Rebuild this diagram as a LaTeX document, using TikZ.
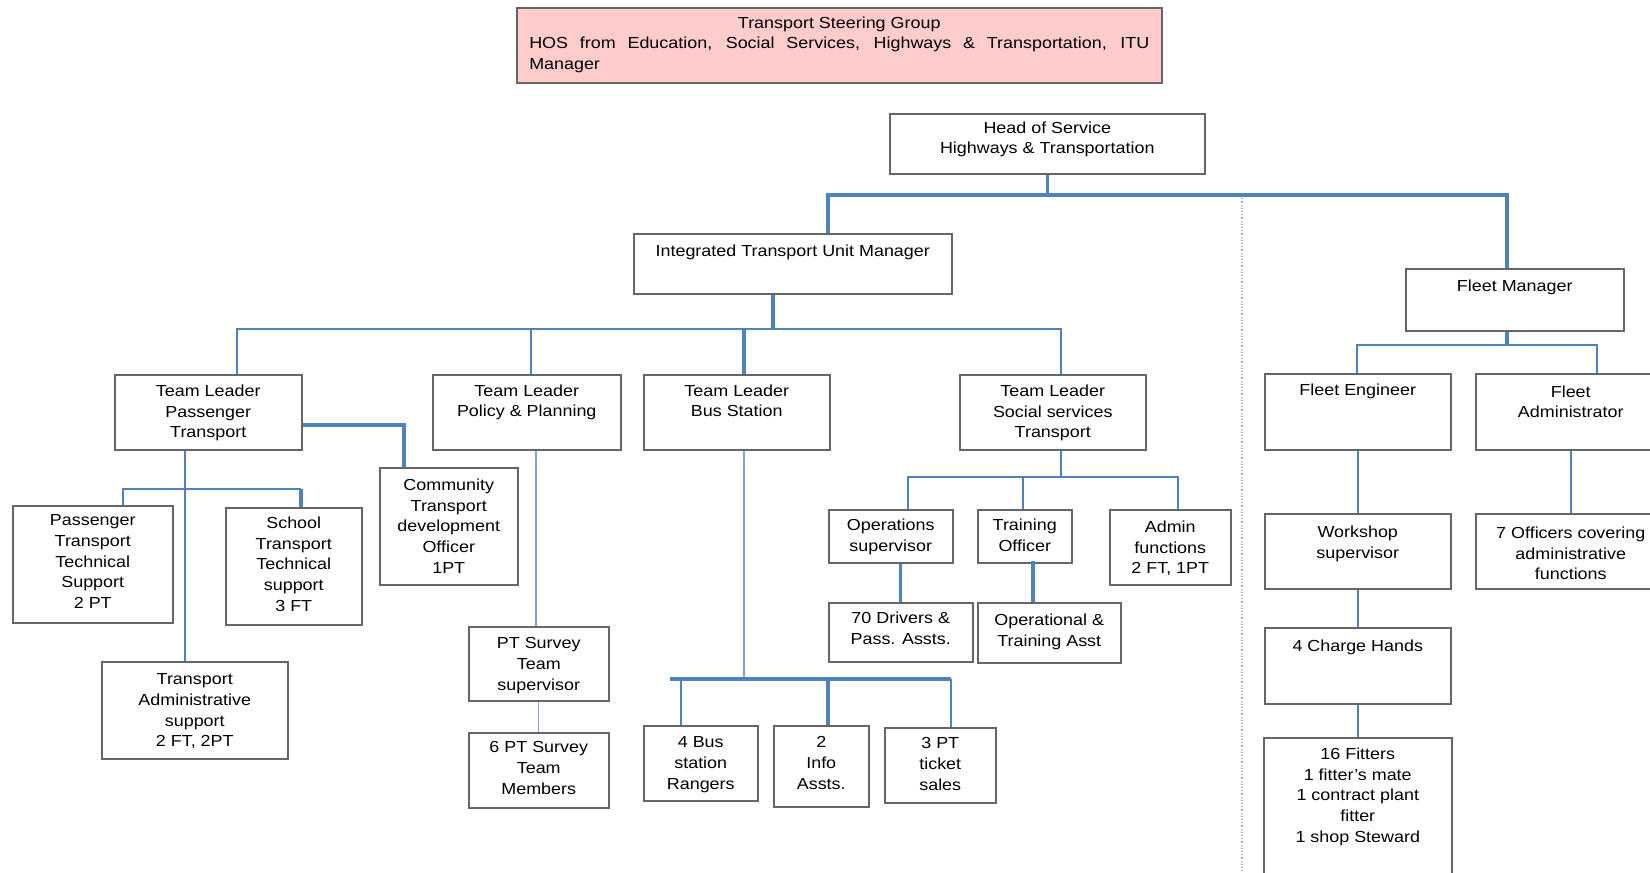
\documentclass[tikz,border=0pt]{standalone}
\usepackage{fontspec}
\setmainfont{Liberation Sans}[FakeStretch=1.12]
\usepackage{tikz}
\usetikzlibrary{calc}

\definecolor{linkblue}{RGB}{79,129,189}
\definecolor{steerpink}{RGB}{255,204,204}

\tikzset{
  post/.style={draw=black!60, line width=1.5pt, fill=white, inner sep=0pt},
  txt/.style={align=center, inner sep=0pt, text=black, font=\fontsize{16}{20.7}\selectfont},
  link/.style={draw=linkblue, line width=2pt},
  link heavy/.style={draw=linkblue, line width=3.4pt},
  link light/.style={draw=linkblue!70, line width=1.4pt},
  sepline/.style={draw=linkblue!55, line width=1.2pt, dotted},
}

% box with its text hung from the top edge
\newcommand{\Post}[7][22]{%
  \node[post, minimum width=#5pt, minimum height=#6pt, anchor=north west] (#2) at (#3,#4) {};
  \node[txt, anchor=north] (#2-t) at ($(#2.north)+(0,#1-11.5)$) {#7};
}

\begin{document}
\begin{tikzpicture}[x=1pt, y=-1pt]
\useasboundingbox (0,0) rectangle (1650,873);

	% steering group
	\node[post, fill=steerpink, minimum width=645pt, minimum height=75pt, anchor=north west] (steer) at (516,7) {};
	\node[txt, anchor=north] (steer-t) at ($(steer.north)+(0,21-11.5)$) {\makebox[620pt]{Transport Steering Group}\\
		\makebox[620pt][s]{HOS from Education, Social Services, Highways \& Transportation, ITU}\\
		\makebox[620pt][l]{Manager}};

	% top levels
	\Post[20]{hos}{889}{113}{315}{60}{Head of Service\\Highways \& Transportation}
	\Post[23]{itu}{633}{233}{318}{60}{Integrated Transport Unit Manager}
	\Post[23]{fleet}{1405}{268}{218}{62}{Fleet Manager}

	% team leaders
	\Post{tlpt}{114}{374}{187}{75}{Team Leader\\Passenger\\Transport}
	\Post{tlpp}{432}{374}{188}{75}{Team Leader\\Policy \& Planning}
	\Post{tlbs}{643}{374}{186}{75}{Team Leader\\Bus Station}
	\Post{tlss}{959}{374}{186}{75}{Team Leader\\Social services\\Transport}

	% passenger transport
	\Post[21]{ptts}{12}{505}{160}{117}{Passenger\\Transport\\Technical\\Support\\2 PT}
	\Post[21]{stts}{225}{507}{136}{117}{School\\Transport\\Technical\\support\\3 FT}
	\Post[23]{comm}{379}{467}{138}{117}{Community\\Transport\\development\\Officer\\1PT}
	\Post[24]{tas}{101}{661}{186}{97}{Transport\\Administrative\\support\\2 FT, 2PT}

	% policy & planning
	\Post[23]{pts}{468}{626}{140}{74}{PT Survey\\Team\\supervisor}
	\Post[21]{ptm}{468}{732}{140}{75}{6 PT Survey\\Team\\Members}

	% bus station
	\Post[23]{rang}{643}{725}{114}{75}{4 Bus\\station\\Rangers}
	\Post[23]{info}{773}{725}{95}{81}{2\\Info\\Assts.}
	\Post[22]{tick}{884}{727}{111}{75}{3 PT\\ticket\\sales}

	% social services
	\Post[21]{ops}{828}{509}{124}{53}{Operations\\supervisor}
	\Post[21]{trn}{977}{509}{94}{53}{Training\\Officer}
	\Post[23]{adm}{1109}{509}{121}{75}{Admin\\functions\\2 FT, 1PT}
	\Post[21]{drv}{828}{602}{144}{59}{70 Drivers \&\\Pass. Assts.}
	\Post[23]{ota}{977}{602}{143}{60}{Operational \&\\Training Asst}

	% fleet
	\Post{feng}{1264}{373}{186}{76}{Fleet Engineer}
	\Post[24]{fadm}{1475}{373}{190}{76}{Fleet\\Administrator}
	\Post[24]{wks}{1264}{513}{186}{75}{Workshop\\supervisor}
	\Post[25]{offc}{1475}{513}{190}{75}{7 Officers covering\\administrative\\functions}
	\Post[24]{chg}{1264}{627}{186}{76}{4 Charge Hands}
	\Post{fit}{1263}{737}{188}{150}{16 Fitters\\1 fitter's mate\\1 contract plant\\fitter\\1 shop Steward}

	% junctions
	\coordinate (hb-l) at (828,195);
	\coordinate (hb-r) at (1507,195);
	\coordinate (ib) at (773,329);
	\coordinate (ib-l) at (237,329);
	\coordinate (ib-pp) at (531,329);
	\coordinate (ib-bs) at (744,329);
	\coordinate (ib-r) at (1061,329);
	\coordinate (pt-c) at (404,425);
	\coordinate (pt-v) at (185,489);
	\coordinate (pt-l) at (123,489);
	\coordinate (pt-r) at (301,489);
	\coordinate (pp-v) at (536,448);
	\coordinate (bs-v) at (744,679);
	\coordinate (bs-l) at (670,679);
	\coordinate (bs-a) at (681,679);
	\coordinate (bs-b) at (828,679);
	\coordinate (bs-r) at (951,679);
	\coordinate (ss-v) at (1061,477);
	\coordinate (ss-l) at (908,477);
	\coordinate (ss-m) at (1023,477);
	\coordinate (ss-r) at (1178,477);
	\coordinate (tr-d) at (1033,561);
	\coordinate (fm-b) at (1507,345);
	\coordinate (fm-l) at (1357,345);
	\coordinate (fm-r) at (1597,345);
	\coordinate (sep-t) at (1242,195);
	\coordinate (sep-b) at (1242,873);

	\draw[sepline] (sep-t) -- (sep-b);

	% head of service
	\draw[link heavy] (hos.south) -- (hos.south |- hb-l);
	\draw[link heavy] (itu.north -| hb-l) -- (hb-l) -- (hb-r) -- (fleet.north -| hb-r);

	% unit manager
	\draw[link heavy] (itu.south -| ib) -- (ib);
	\draw[link] (tlpt.north -| ib-l) -- (ib-l) -- (ib-r) -- (tlss.north -| ib-r);
	\draw[link] (ib-pp) -- (tlpp.north -| ib-pp);
	\draw[link heavy] (ib-bs) -- (tlbs.north -| ib-bs);

	% passenger transport
	\draw[link heavy] (tlpt.east |- pt-c) -- (pt-c) -- (comm.north -| pt-c);
	\draw[link] (tlpt.south -| pt-v) -- (tas.north -| pt-v);
	\draw[link] (ptts.north -| pt-l) -- (pt-l) -- (pt-r);
	\draw[link heavy] (pt-r) -- (stts.north -| pt-r);

	% policy & planning
	\draw[link light] (tlpp.south -| pp-v) -- (pts.north -| pp-v);
	\draw[link light] (pts.south) -- (ptm.north);

	% bus station
	\draw[link light] (tlbs.south -| bs-v) -- (bs-v);
	\draw[link heavy] (bs-l) -- (bs-r);
	\draw[link] (bs-a) -- (rang.north -| bs-a);
	\draw[link heavy] (bs-b) -- (info.north -| bs-b);
	\draw[link] (bs-r) -- (tick.north -| bs-r);

	% social services
	\draw[link] (tlss.south -| ss-v) -- (ss-v);
	\draw[link] (ops.north -| ss-l) -- (ss-l) -- (ss-r) -- (adm.north -| ss-r);
	\draw[link] (ss-m) -- (trn.north -| ss-m);
	\draw[link heavy] (ops.south -| drv.north) -- (drv.north);
	\draw[link heavy] (tr-d) -- (ota.north -| tr-d);

	% fleet
	\draw[link heavy] (fleet.south -| fm-b) -- (fm-b);
	\draw[link] (feng.north -| fm-l) -- (fm-l) -- (fm-r) -- (fadm.north -| fm-r);
	\draw[link] (feng.south) -- (wks.north);
	\draw[link] (wks.south) -- (chg.north);
	\draw[link] (chg.south) -- (fit.north -| chg.south);
	\draw[link] (fadm.south) -- (offc.north);

\end{tikzpicture}
\end{document}
